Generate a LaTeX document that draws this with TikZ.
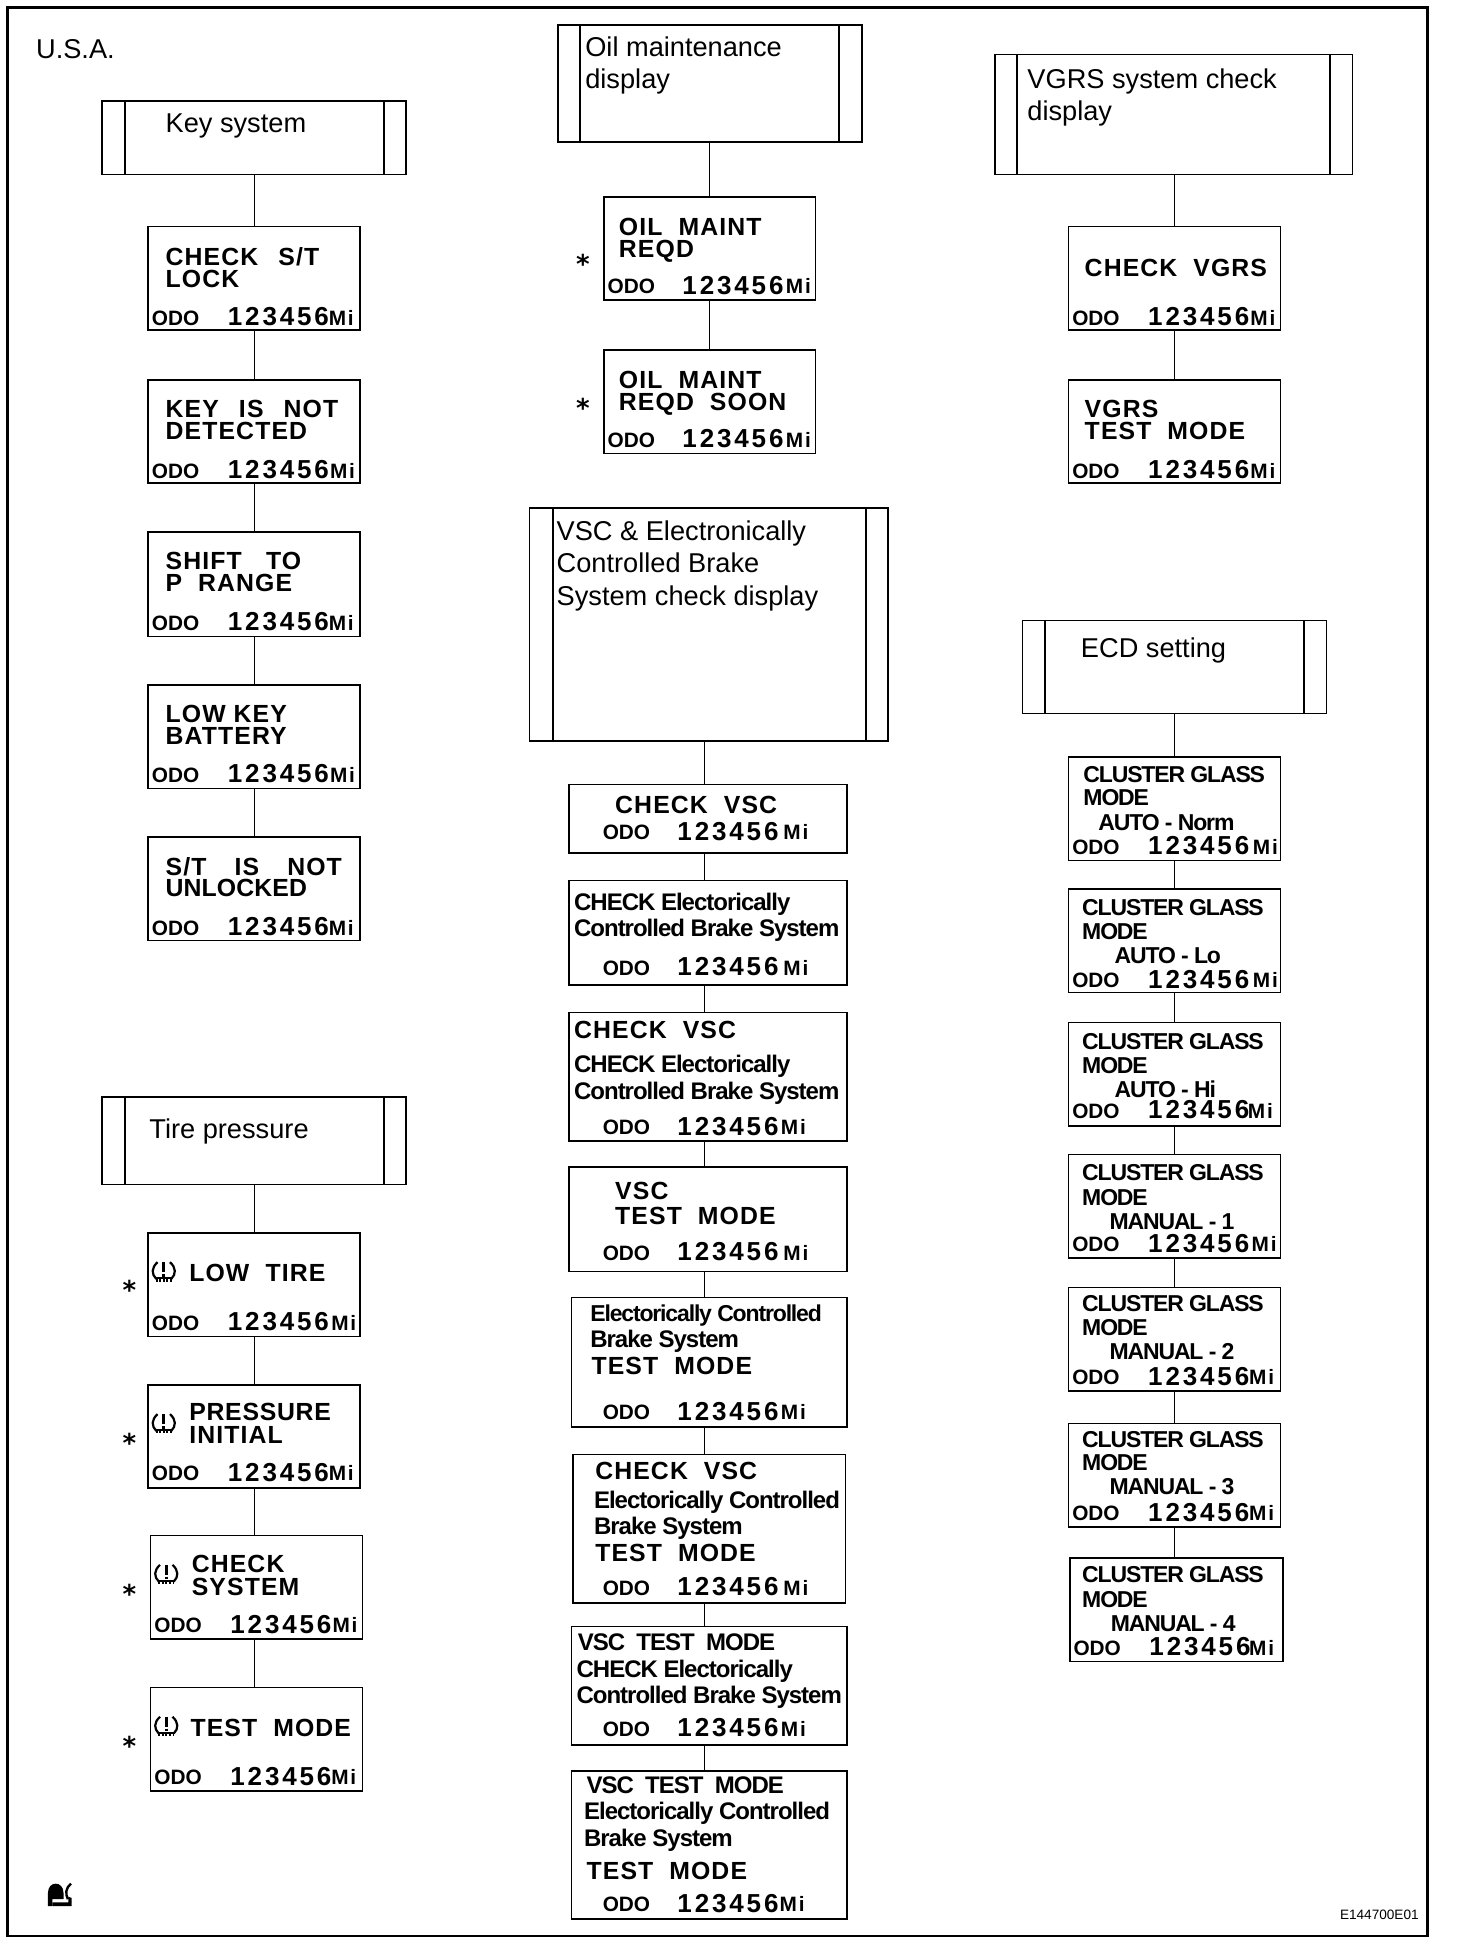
\documentclass[tikz,border=0pt]{standalone}
\usepackage{fontspec}
\setmainfont{Liberation Sans}
\newfontfamily\capsf[LetterSpace=4.5]{Liberation Sans Bold}
\newfontfamily\numf[LetterSpace=11]{Liberation Sans Bold}
\newfontfamily\mixf[LetterSpace=-4.2]{Liberation Sans Bold}
\newfontfamily\cluf[LetterSpace=-5]{Liberation Sans Bold}
\newfontfamily\odof{Liberation Sans Bold}
\newfontfamily\mif[LetterSpace=9]{Liberation Sans Bold}
\newfontfamily\starf{DejaVu Sans Bold}
\newcounter{tcnt}
\def\uu{0.62267}
\tikzset{
  every node/.style={inner sep=0pt,outer sep=0pt},
  dispbox/.style={draw=black,line width=0.75pt,fill=white,rectangle},
  headbox/.style={draw=black,line width=0.7pt,fill=white,rectangle},
  inner rule/.style={line width=1pt},
  conn/.style={line width=0.55pt},
  lbl/.style={anchor=base west,text=black},
  headtxt/.style={lbl,font=\fontsize{13.6}{15}\selectfont},
  capt/.style={lbl,font=\capsf\fontsize{12.4}{14}\selectfont},
  mixt/.style={lbl,font=\mixf\fontsize{12}{14}\selectfont},
  clut/.style={lbl,font=\cluf\fontsize{11.5}{14}\selectfont},
  odot/.style={lbl,font=\odof\fontsize{10.4}{12}\selectfont},
  mit/.style={lbl,font=\mif\fontsize{10.4}{12}\selectfont},
  numt/.style={lbl,font=\numf\fontsize{13}{14}\selectfont},
  start/.style={anchor=base,font=\starf\fontsize{13}{13}\selectfont},
  idt/.style={lbl,font=\fontsize{6.8}{8}\selectfont}
}
\newcommand{\bx}[5]{%
  \pgfmathsetmacro\bw{(#4-#2)*\uu}\pgfmathsetmacro\bh{(#5-#3)*\uu}%
  \node[dispbox,minimum width=\bw pt,minimum height=\bh pt,anchor=north west] (#1) at (#2,#3) {};}
\newcommand{\hd}[7]{% name x1 y1 x2 y2 inner1 inner2
  \pgfmathsetmacro\bw{(#4-#2)*\uu}\pgfmathsetmacro\bh{(#5-#3)*\uu}%
  \node[headbox,minimum width=\bw pt,minimum height=\bh pt,anchor=north west] (#1) at (#2,#3) {};
  \draw[inner rule] (#6,0 |- #1.north) -- (#6,0 |- #1.south);
  \draw[inner rule] (#7,0 |- #1.north) -- (#7,0 |- #1.south);}
\newcommand{\tx}[4]{\stepcounter{tcnt}\node[#1] (t\arabic{tcnt}) at (#2,#3) {#4};}
\newcommand{\odo}[4]{% xodo xnum xmi y
  \tx{odot}{#1}{#4}{ODO}\tx{numt}{#2}{#4+0.5}{123456}\tx{mit}{#3-1}{#4}{Mi}}
\newcommand{\cn}[3]{\draw[conn] (#1 |- #2.south) -- (#1 |- #3.north);}
\newcommand{\tireicon}[2]{%
  \begin{scope}[shift={(#1,#2)},line width=1.1pt,line cap=butt]
    \draw (-5,-7.5) .. controls (-10,-3) and (-10,2) .. (-6,6);
    \draw (5,-7.5) .. controls (10,-3) and (10,2) .. (6,6);
    \draw (-6.5,5.4) -- (6.5,5.4);
    \draw[line width=1.3pt,dash pattern=on 1pt off 0.8pt] (-6.5,7) -- (6.5,7);
    \draw[line width=1.4pt] (0,-7.5) -- (0,0.5);
    \draw[line width=1.4pt] (0,2) -- (0,4.2);
  \end{scope}}
\begin{document}
\begin{tikzpicture}[x=0.62267pt,y=-0.62267pt]
\useasboundingbox (0,0) rectangle (1182,1567.4);
\coordinate (frameA) at (6,6);
\coordinate (frameB) at (1146.5,1554.5);
\draw[line width=1.4pt] (frameA) rectangle (frameB);
\coordinate (colL) at (204.5,0);
\coordinate (colC) at (570,0);
\coordinate (colV) at (566,0);
\coordinate (colR) at (943,0);

\tx{headtxt}{29}{47}{U.S.A.}

% ---- Key system
\hd{hkey}{82}{81}{326}{140}{100}{308}
\tx{headtxt}{133}{106}{Key system}
\bx{k1}{119}{182}{289}{265}
\bx{k2}{119}{305}{289}{388}
\bx{k3}{119}{427}{289}{511}
\bx{k4}{119}{550}{289}{633}
\bx{k5}{119}{672}{289}{755}
\cn{colL}{hkey}{k1}\cn{colL}{k1}{k2}\cn{colL}{k2}{k3}\cn{colL}{k3}{k4}\cn{colL}{k4}{k5}
\tx{capt}{133}{213}{CHECK~~\,S/T}\tx{capt}{133}{231}{LOCK}\odo{122}{183}{265}{261}
\tx{capt}{133}{335}{KEY~~\,IS~~\,NOT}\tx{capt}{133}{353}{DETECTED}\odo{122}{183}{266}{384}
\tx{capt}{133}{457}{SHIFT~~\,\,TO}\tx{capt}{133}{475}{P~~RANGE}\odo{122}{183}{265}{506}
\tx{capt}{133}{580}{LOW~KEY}\tx{capt}{133}{598}{BATTERY}\odo{122}{183}{266}{628}
\tx{capt}{133}{703}{S/T~~~\,IS~~~\,NOT}\tx{capt}{133}{720}{\mbox{\addfontfeature{LetterSpace=0.5}UNLOCKED}}\odo{122}{183}{265}{751}

% ---- Tire pressure
\hd{htire}{82}{881}{326}{951}{100}{308}
\tx{headtxt}{120}{914}{Tire pressure}
\bx{p1}{119}{990}{289}{1073}
\bx{p2}{119}{1112}{289}{1195}
\bx{p3}{121}{1233}{291}{1316}
\bx{p4}{121}{1355}{291}{1438}
\cn{colL}{htire}{p1}\cn{colL}{p1}{p2}\cn{colL}{p2}{p3}\cn{colL}{p3}{p4}
\tireicon{131.5}{1021}
\tx{capt}{152}{1029}{LOW~\,\,TIRE}\odo{122}{183}{267}{1068}
\tireicon{131.5}{1143}
\tx{capt}{152}{1141}{\mbox{\addfontfeature{LetterSpace=3}PRESSURE}}\tx{capt}{152}{1159}{INITIAL}\odo{122}{183}{265}{1189}
\tireicon{133.5}{1264}
\tx{capt}{154}{1263}{CHECK}\tx{capt}{154}{1281}{SYSTEM}\odo{124}{185}{268}{1311}
\tireicon{133.5}{1386}
\tx{capt}{153}{1394}{TEST~~MODE}\odo{124}{185}{267}{1433}
\tx{start}{104}{1043.5}{*}\tx{start}{104}{1166.5}{*}\tx{start}{104}{1287.5}{*}\tx{start}{104}{1409.5}{*}

% ---- Logo
\fill (38.5,1530.5) -- (38.5,1520) .. controls (38.5,1510) and (51,1510) .. (51,1520) -- (51,1525) -- (42,1525) -- (42,1530.5) -- cycle;
\fill (42,1527.5) -- (55,1527.5) -- (55,1523) -- (57.5,1524) -- (57.5,1530.5) -- (42,1530.5) -- cycle;
\draw[line width=1.2pt] (57,1512.5) .. controls (52.5,1516) and (52.5,1521) .. (54.5,1525);

% ---- Oil maintenance
\hd{hoil}{448}{20}{692}{114}{466}{674}
\tx{headtxt}{470}{45}{Oil maintenance}\tx{headtxt}{470}{71}{display}
\bx{o1}{485}{158}{655}{241}
\bx{o2}{485}{281}{655}{364}
\cn{colC}{hoil}{o1}\cn{colC}{o1}{o2}
\tx{capt}{497}{189}{OIL~~MAINT}\tx{capt}{497}{207}{REQD}\odo{488}{548}{632}{236}
\tx{capt}{497}{312}{OIL~~MAINT}\tx{capt}{497}{330}{REQD~~SOON}\odo{488}{548}{632}{359}
\tx{start}{468}{219.5}{*}\tx{start}{468}{335.5}{*}

% ---- VSC
\hd{hvsc}{425}{408}{713}{595}{444}{695}
\tx{headtxt}{447}{434}{VSC \& Electronically}\tx{headtxt}{447}{460}{Controlled Brake}\tx{headtxt}{447}{486}{System check display}
\bx{v1}{457}{630}{680}{685}
\bx{v2}{457}{707}{680}{791}
\bx{v3}{457}{813}{680}{916}
\bx{v4}{457}{937}{680}{1021}
\bx{v5}{459}{1042}{680}{1146}
\bx{v6}{460}{1168}{679}{1287}
\bx{v7}{459}{1306}{680}{1401}
\bx{v8}{459}{1422}{680}{1541}
\cn{colV}{hvsc}{v1}\cn{colV}{v1}{v2}\cn{colV}{v2}{v3}\cn{colV}{v3}{v4}\cn{colV}{v4}{v5}\cn{colV}{v5}{v6}\cn{colV}{v6}{v7}\cn{colV}{v7}{v8}
\tx{capt}{494}{653}{CHECK~~VSC}\odo{484}{544}{630}{674}
\tx{mixt}{461}{731}{CHECK Electorically}\tx{mixt}{461}{752}{Controlled Brake System}\odo{484}{544}{630}{783}
\tx{capt}{461}{834}{CHECK~~VSC}\tx{mixt}{461}{861}{CHECK Electorically}\tx{mixt}{461}{883}{Controlled Brake System}\odo{484}{544}{628}{911}
\tx{capt}{494}{963}{VSC}\tx{capt}{494}{983}{TEST~~MODE}\odo{484}{544}{630}{1012}
\tx{clut}{474}{1061}{\mbox{Electorically Controlled}}\tx{mixt}{474}{1082}{Brake System}\tx{capt}{475}{1104}{TEST~~MODE}\odo{484}{544}{628}{1140}
\tx{capt}{478}{1188}{CHECK~~VSC}\tx{mixt}{477}{1211}{Electorically Controlled}\tx{mixt}{477}{1232}{Brake System}\tx{capt}{478}{1254}{TEST~~MODE}\odo{484}{544}{630}{1281}
\tx{mixt}{464}{1325}{VSC~~TEST~~MODE}\tx{mixt}{463}{1347}{CHECK Electorically}\tx{mixt}{463}{1368}{Controlled Brake System}\odo{484}{544}{628}{1394}
\tx{mixt}{471}{1440}{VSC~~TEST~~MODE}\tx{mixt}{469}{1461}{Electorically Controlled}\tx{mixt}{469}{1483}{Brake System}\tx{capt}{471}{1509}{TEST~~MODE}\odo{484}{544}{627}{1535}

% ---- VGRS
\hd{hvgrs}{799}{44}{1086}{140}{817}{1068}
\tx{headtxt}{825}{71}{VGRS system check}\tx{headtxt}{825}{97}{display}
\bx{g1}{858}{182}{1028}{265}
\bx{g2}{858}{305}{1028}{388}
\cn{colR}{hvgrs}{g1}\cn{colR}{g1}{g2}
\tx{capt}{871}{222}{CHECK~~VGRS}\odo{861}{922}{1005}{261}
\tx{capt}{871}{335}{VGRS}\tx{capt}{871}{353}{TEST~~MODE}\odo{861}{922}{1005}{384}

% ---- ECD
\hd{hecd}{821}{498}{1065}{573}{839}{1047}
\tx{headtxt}{868}{528}{ECD setting}
\bx{e1}{858}{608}{1028}{691}
\bx{e2}{858}{714}{1028}{797}
\bx{e3}{858}{821}{1028}{904}
\bx{e4}{858}{927}{1028}{1010}
\bx{e5}{858}{1034}{1028}{1117}
\bx{e6}{858}{1143}{1028}{1226}
\bx{e7}{859}{1251}{1030}{1334}
\cn{colR}{hecd}{e1}\cn{colR}{e1}{e2}\cn{colR}{e2}{e3}\cn{colR}{e3}{e4}\cn{colR}{e4}{e5}\cn{colR}{e5}{e6}\cn{colR}{e6}{e7}
\tx{clut}{870}{628}{CLUSTER GLASS}\tx{clut}{870}{647}{MODE}\tx{clut}{882}{667}{AUTO - Norm}\odo{861}{922}{1007}{686}
\tx{clut}{869}{735}{CLUSTER GLASS}\tx{clut}{869}{754}{MODE}\tx{clut}{895}{774}{AUTO - Lo}\odo{861}{922}{1007}{793}
\tx{clut}{869}{843}{CLUSTER GLASS}\tx{clut}{869}{862}{MODE}\tx{clut}{895}{881}{AUTO - Hi}\odo{861}{922}{1003}{898}
\tx{clut}{869}{948}{CLUSTER GLASS}\tx{clut}{869}{968}{MODE}\tx{clut}{891}{987}{MANUAL - 1}\odo{861}{922}{1006}{1005}
\tx{clut}{869}{1053}{CLUSTER GLASS}\tx{clut}{869}{1072}{MODE}\tx{clut}{891}{1092}{MANUAL - 2}\odo{861}{922}{1004}{1112}
\tx{clut}{869}{1162}{CLUSTER GLASS}\tx{clut}{869}{1181}{MODE}\tx{clut}{891}{1200}{MANUAL - 3}\odo{861}{922}{1004}{1221}
\tx{clut}{869}{1271}{CLUSTER GLASS}\tx{clut}{869}{1291}{MODE}\tx{clut}{892}{1310}{MANUAL - 4}\odo{862}{923}{1004}{1329}

\tx{idt}{1076}{1541}{E144700E01}
\end{tikzpicture}
\end{document}
